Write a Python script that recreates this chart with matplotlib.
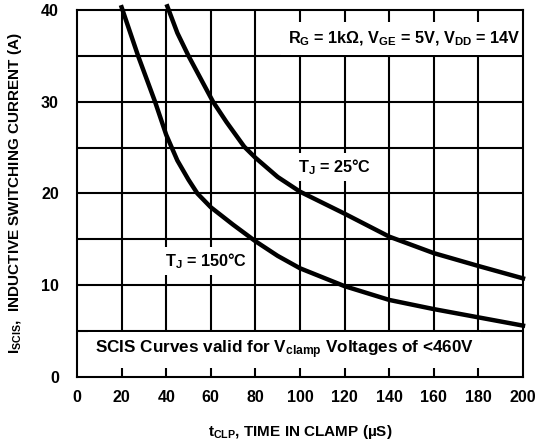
import matplotlib
matplotlib.use('Agg')
import matplotlib.pyplot as plt

plt.rcParams.update({'font.family': 'Liberation Sans',
                     'font.weight': 'bold',
                     'axes.labelweight': 'bold',
                     'font.size': 11,
                     'mathtext.fontset': 'custom',
                     'mathtext.rm': 'Liberation Sans:bold',
                     'mathtext.bf': 'Liberation Sans:bold',
                     'mathtext.it': 'Liberation Sans:bold'})

# curve data
t_25 = [40.5, 45, 50, 61, 67, 75, 80, 90, 100, 120, 140, 160, 180, 200]
i_25 = [40.4, 37.5, 35.0, 30.0, 27.8, 25.1, 23.9, 21.8, 20.2, 17.8, 15.3, 13.5, 12.1, 10.75]

t_150 = [20, 27.4, 35, 40, 45, 50, 54, 60, 70, 80, 90, 100, 120, 140, 160, 180, 200]
i_150 = [40.3, 35.0, 30.0, 26.4, 23.6, 21.5, 20.0, 18.5, 16.6, 14.8, 13.2, 11.85, 9.9, 8.4, 7.4, 6.5, 5.6]

x_ticks = list(range(0, 201, 20))
y_ticks = [0, 10, 20, 30, 40]
y_grid = list(range(0, 41, 5))

fig = plt.figure(figsize=(5.36, 4.42), dpi=100)
ax = fig.add_axes([77/536., 65/442., 446/536., 367/442.])

for x in x_ticks[1:-1]:
    ax.axvline(x, color='black', lw=1.5, zorder=1)
for y in y_grid[1:-1]:
    ax.axhline(y, color='black', lw=1.5, zorder=1)

ax.plot(t_25, i_25, color='black', lw=3.2, zorder=4, clip_on=False, solid_joinstyle='round')
ax.plot(t_150, i_150, color='black', lw=3.2, zorder=4, clip_on=False, solid_joinstyle='round')

ax.set_xlim(0, 200)
ax.set_ylim(0, 40)
ax.set_xticks(x_ticks)
ax.set_yticks(y_ticks)
ax.tick_params(length=0, labelsize=11.5)
ax.tick_params(axis='y', pad=13)
ax.tick_params(axis='x', pad=9)
for s in ax.spines.values():
    s.set_linewidth(1.5)

# white boxes sit over the grid but under the frame
box = dict(facecolor='white', edgecolor='none', pad=3)
ax.text(199, 36.9, r'$\mathbf{R_{G}}$ = 1k$\Omega$, $\mathbf{V_{GE}}$ = 5V, $\mathbf{V_{DD}}$ = 14V',
        ha='right', va='center', fontsize=11.7,
        bbox=dict(facecolor='white', edgecolor='none', pad=5), zorder=2)
ax.text(115.5, 22.9, r'$\mathbf{T_{J}}$ = 25°C', ha='center', va='center', fontsize=11.7,
        bbox=box, zorder=2)
ax.text(58, 12.6, r'$\mathbf{T_{J}}$ = 150°C', ha='center', va='center', fontsize=11.7,
        bbox=box, zorder=2)
ax.text(93, 2.95, r'SCIS Curves valid for $\mathbf{V_{clamp}}$ Voltages of <460V',
        ha='center', va='center', fontsize=12.3,
        bbox=dict(facecolor='white', edgecolor='none', pad=5), zorder=2)

ax.set_xlabel(r'$\mathbf{t_{CLP}}$, TIME IN CLAMP (µS)', labelpad=13)
ax.set_ylabel(r'$\mathbf{I_{SCIS}}$,  INDUCTIVE SWITCHING CURRENT (A)', labelpad=12)

plt.savefig('out.png', dpi=100)
